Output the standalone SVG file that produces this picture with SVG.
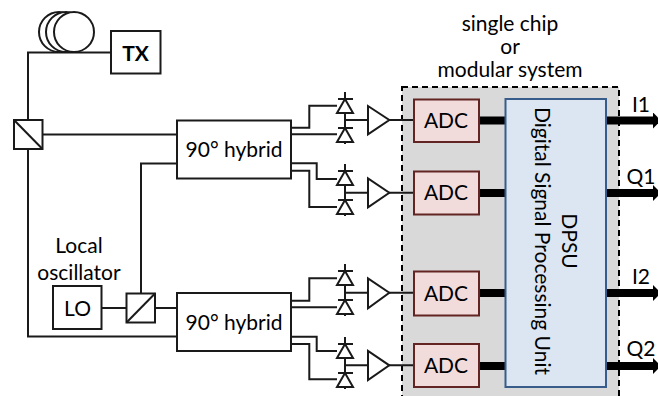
<svg xmlns="http://www.w3.org/2000/svg" width="658" height="396" viewBox="0 0 658 396">
<style>
text{font-family:Lato,"Open Sans",sans-serif;font-size:21px;fill:#000;text-anchor:middle}
.b{fill:#fff;stroke:#1a1a1a;stroke-width:2}
.w{fill:none;stroke:#1a1a1a;stroke-width:2}
.adc{fill:#f2dcdb;stroke:#632523;stroke-width:2}
.bus{fill:none;stroke:#000;stroke-width:8}
.d{fill:#fff;stroke:#1a1a1a;stroke-width:2}
</style>
<defs>
<marker id="arr" markerUnits="userSpaceOnUse" markerWidth="8" markerHeight="16" refX="0" refY="8" orient="auto"><path d="M0 0L8 8L0 16Z" fill="#000"/></marker>
<g id="det">
<path class="w" d="M0 -7V45M-7 0H8M-7 29H8"/>
<path class="d" d="M0 0L8 14H-8Z"/>
<path class="d" d="M0 29L8 43H-8Z"/>
</g>
</defs>
<rect id="enclosure" x="402" y="87" width="217" height="320" fill="#d9d9d9" stroke="#000" stroke-width="2" stroke-dasharray="6 4"/>
<g id="connectors">
<path class="w" d="M111 52.500H28V120M28 149V336.500H177M42 134.500H177M177 163.500H141V293M101 308H126M155 308H177"/>
<path class="w" d="M291 127.700H309.300V105.700H337M291 134.300H337M291 163.300H316.700V179H337M291 170.700H309.300V207H337"/>
<path class="w" d="M291 300.700H309.300V278.300H337M291 307.300H337M291 336.700H316.700V351H337M291 344H309.300V379.300H337"/>
<path class="w" d="M345 120H368M389 120H414M345 192.700H368M389 192.700H414M345 292.700H368M389 292.700H414M345 365.300H368M389 365.300H414"/>
<path class="bus" d="M479 120.500H506M479 193H506M479 293H506M479 366H506"/>
<path class="bus" marker-end="url(#arr)" d="M606 120.500H653"/>
<path class="bus" marker-end="url(#arr)" d="M606 193H653"/>
<path class="bus" marker-end="url(#arr)" d="M606 293H653"/>
<path class="bus" marker-end="url(#arr)" d="M606 366H653"/>
</g>
<g id="coil">
<circle class="b" cx="59" cy="32" r="20"/><circle class="b" cx="66" cy="32" r="20"/><circle class="b" cx="74" cy="32" r="20"/>
</g>
<g id="tx"><rect class="b" x="111" y="31" width="49.500" height="42.500"/><text x="135.500" y="60.500" font-weight="bold">TX</text></g>
<g id="splitter1"><rect class="b" x="14" y="120" width="28.500" height="29"/><path class="w" d="M14 120L42.500 149"/></g>
<g id="splitter2"><rect class="b" x="126.500" y="293.500" width="28.500" height="29"/><path class="w" d="M126.500 322.500L155 293.500"/></g>
<g id="lo"><rect class="b" x="53" y="286" width="48.500" height="43"/><text x="77.500" y="316">LO</text></g>
<text x="79" y="253">Local</text><text x="79" y="280">oscillator</text>
<g id="hybrid1"><rect class="b" x="177" y="120.500" width="114" height="58"/><text x="234" y="157">90° hybrid</text></g>
<g id="hybrid2"><rect class="b" x="177" y="293" width="114" height="58"/><text x="234" y="330">90° hybrid</text></g>
<use id="det1" href="#det" x="345" y="99"/>
<use id="det2" href="#det" x="345" y="171"/>
<use id="det3" href="#det" x="345" y="271"/>
<use id="det4" href="#det" x="345" y="344"/>
<g id="amps" class="d">
<path class="d" d="M368 106V134.300L389.300 120Z"/>
<path class="d" d="M368 178.300V207.300L389.300 192.700Z"/>
<path class="d" d="M368 278.300V308.300L389.300 292.700Z"/>
<path class="d" d="M368 351V380L389.300 365.300Z"/>
</g>
<g id="adc1"><rect class="adc" x="414" y="99.500" width="65" height="42.500"/><text x="446" y="128">ADC</text></g>
<g id="adc2"><rect class="adc" x="414" y="171.500" width="65" height="43"/><text x="446" y="200">ADC</text></g>
<g id="adc3"><rect class="adc" x="414" y="271.500" width="65" height="44"/><text x="446" y="301">ADC</text></g>
<g id="adc4"><rect class="adc" x="414" y="344" width="65" height="43"/><text x="446" y="373">ADC</text></g>
<g id="dpsu"><rect x="505.500" y="99" width="100.500" height="288" fill="#dce6f2" stroke="#385d8a" stroke-width="2"/>
<text transform="translate(562,241) rotate(90)">DPSU</text>
<text transform="translate(535,241) rotate(90)">Digital Signal Processing Unit</text></g>
<text x="510" y="31">single chip</text><text x="510" y="54">or</text><text x="510" y="77">modular system</text>
<text x="641" y="112">I1</text><text x="641" y="184">Q1</text><text x="641" y="284">I2</text><text x="641" y="356">Q2</text>
</svg>
